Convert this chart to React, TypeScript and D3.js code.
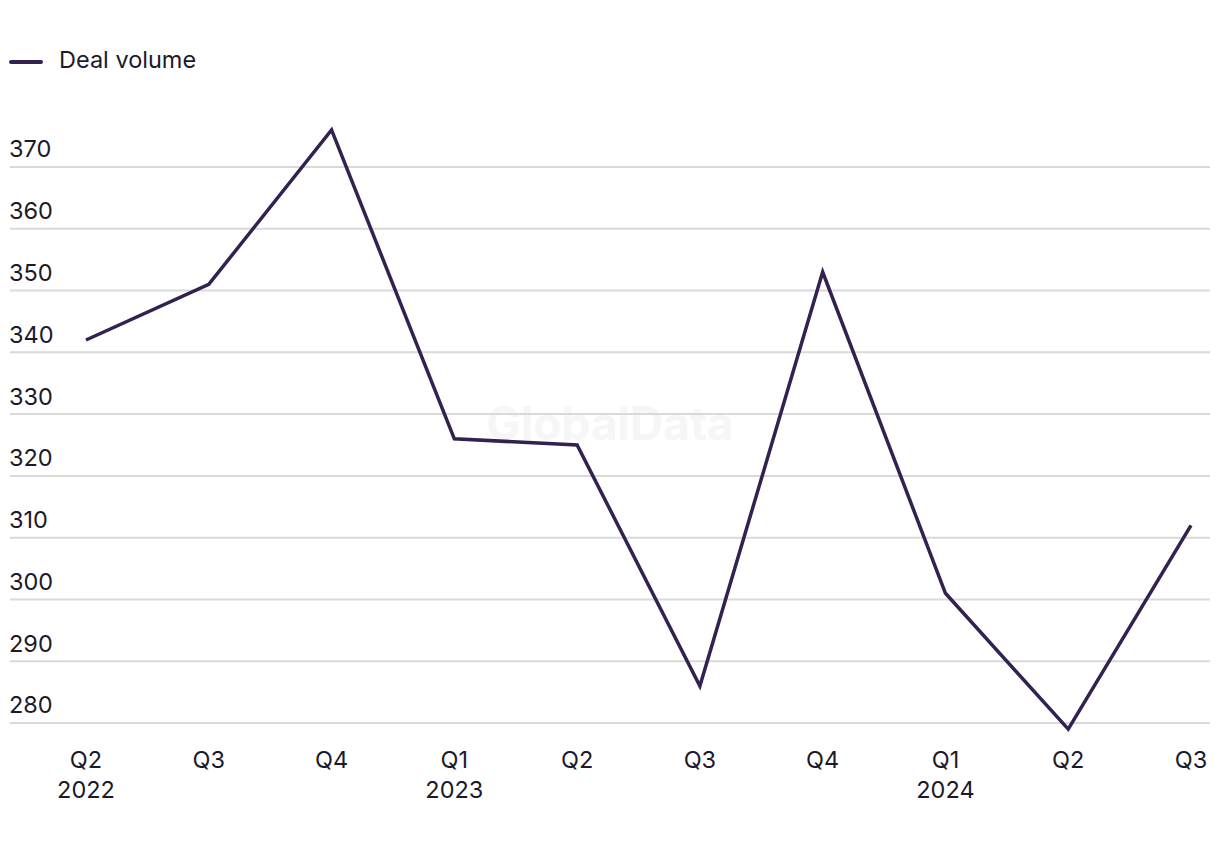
import React from "react";
import * as d3 from "d3";

const quarters = ["Q2", "Q3", "Q4", "Q1", "Q2", "Q3", "Q4", "Q1", "Q2", "Q3"];
const years = ["2022", "", "", "2023", "", "", "", "2024", "", ""];
const dealVolume = [342, 351, 376, 326, 325, 286, 353, 301, 279, 312];
const yTicks = [280, 290, 300, 310, 320, 330, 340, 350, 360, 370];

const W = 1220;
const H = 850;
const FONT = "Inter, 'Liberation Sans', Arial, sans-serif";
const LINE = "#33214f";
const TEXT = "#1c1a2a";
const FS = 23.5;

export default function App() {
  const x = d3
    .scalePoint<number>()
    .domain(d3.range(quarters.length))
    .range([86, 1191]);
  const y = d3.scaleLinear().domain([280, 370]).range([723, 167]);
  const line = d3
    .line<number>()
    .x((_, i) => x(i) as number)
    .y((d) => y(d));

  return (
    <svg
      width={W}
      height={H}
      style={{ position: "absolute", left: 0, top: 0, background: "#fff" }}
      fontFamily={FONT}
    >
      <text
        x={610}
        y={427}
        textAnchor="middle"
        dominantBaseline="middle"
        fontSize={46}
        fontWeight="bold"
        fill="#f6f6f6"
      >
        GlobalData
      </text>
      {yTicks.map((t) => (
        <g key={t}>
          <line x1={10} x2={1210} y1={y(t)} y2={y(t)} stroke="#d9d9d9" strokeWidth={2} />
          <text x={9} y={y(t) - 16} fontSize={FS} fill={TEXT} dominantBaseline="middle">
            {t}
          </text>
        </g>
      ))}
      <path d={line(dealVolume) || ""} fill="none" stroke={LINE} strokeWidth={3.5} strokeLinejoin="miter" />
      {quarters.map((q, i) => (
        <g key={i}>
          <text x={x(i)} y={762} textAnchor="middle" dominantBaseline="middle" fontSize={FS} fill={TEXT}>
            {q}
          </text>
          {years[i] && (
            <text x={x(i)} y={792} textAnchor="middle" dominantBaseline="middle" fontSize={FS} fill={TEXT}>
              {years[i]}
            </text>
          )}
        </g>
      ))}
      <line x1={11} x2={41} y1={62} y2={62} stroke={LINE} strokeWidth={4} strokeLinecap="round" />
      <text x={59} y={62} fontSize={FS} fill={TEXT} dominantBaseline="middle">
        Deal volume
      </text>
    </svg>
  );
}
